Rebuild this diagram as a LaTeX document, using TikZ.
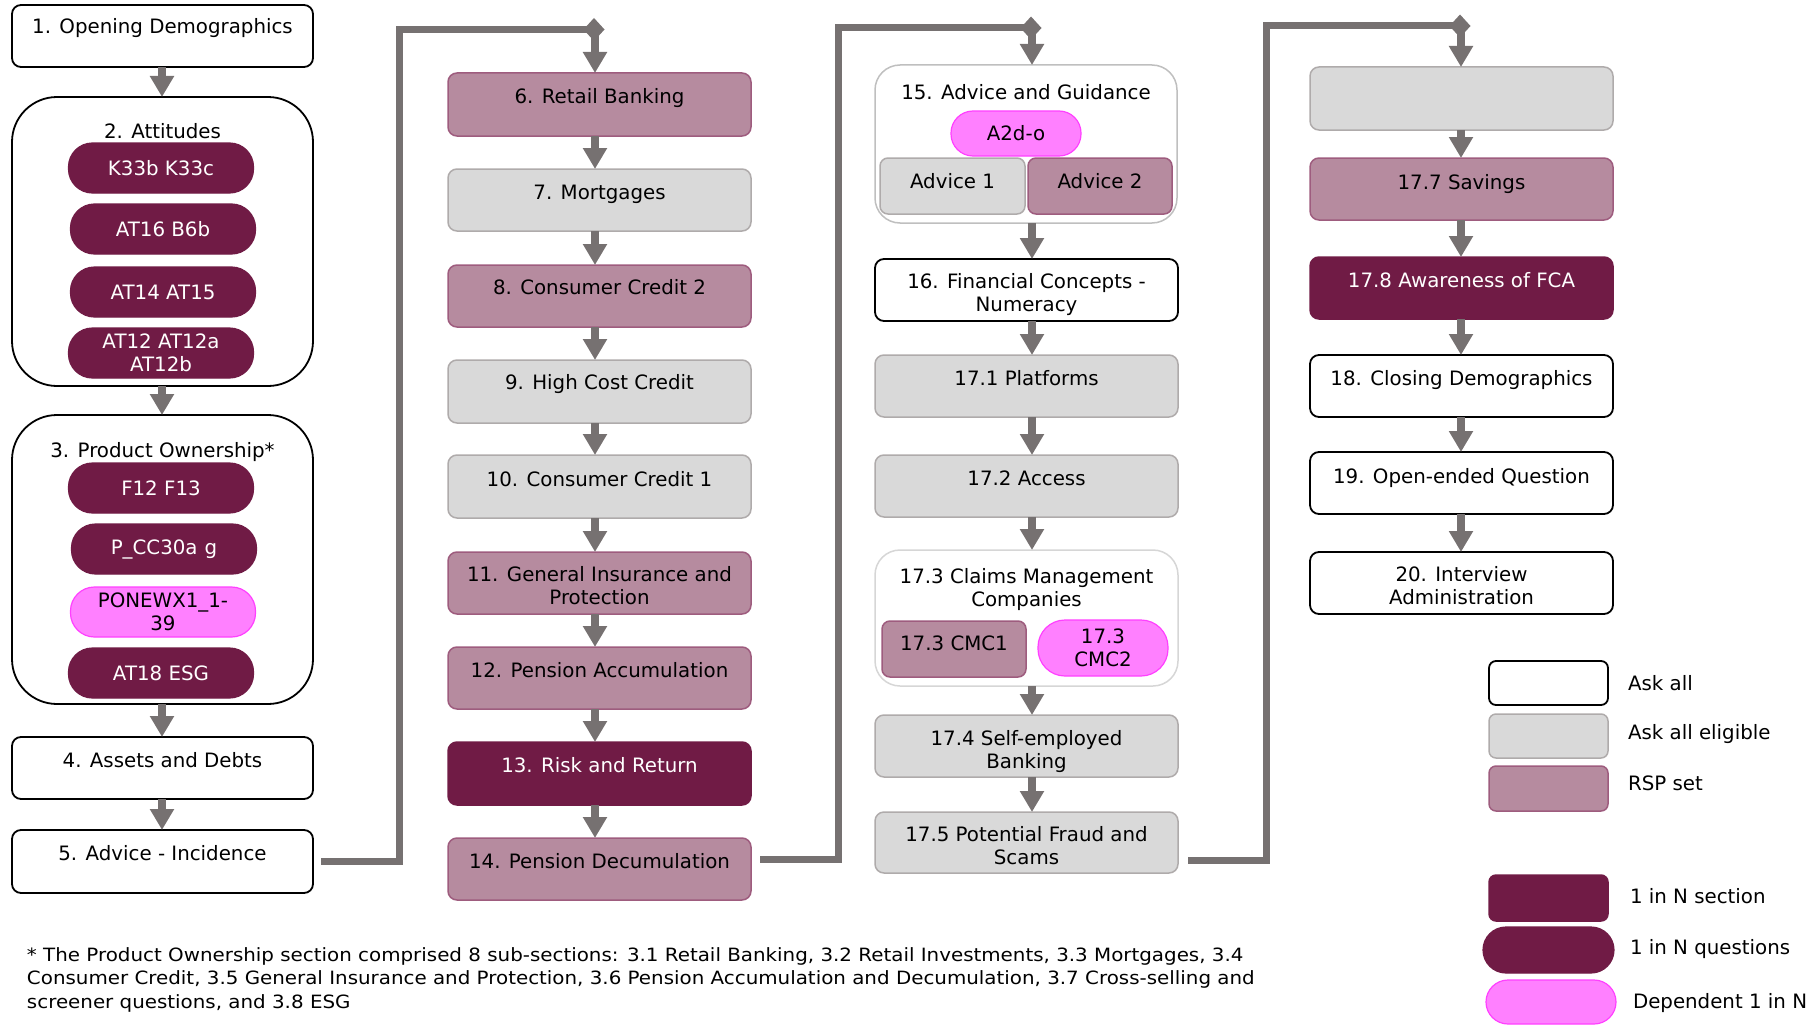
\documentclass[tikz,border=0pt]{standalone}
\usepackage{fontspec}
\setmainfont{DejaVu Sans}
\newfontfamily\footfont[FakeStretch=1.085]{DejaVu Sans}
\usetikzlibrary{arrows.meta,shapes.geometric,calc}

\definecolor{arrowgray}{HTML}{767171}
\definecolor{darkm}{HTML}{701B45}
\definecolor{mauve}{HTML}{B68B9F}
\definecolor{mauveb}{HTML}{9E5C7E}
\definecolor{lgray}{HTML}{D9D9D9}
\definecolor{lgrayb}{HTML}{AFABAB}
\definecolor{pinkf}{HTML}{FF80FF}
\definecolor{pinkb}{HTML}{FF40FF}
\definecolor{contb}{HTML}{BFBFBF}
\definecolor{contc}{HTML}{D6D6D6}

% box text: width, height, first-baseline offset, text
\newcommand{\bt}[4]{\parbox[c][#2pt][t]{#1pt}{\centering\rule{0pt}{#3pt}#4\par}}

\tikzset{
  base/.style={inner sep=0pt, outer sep=0pt, anchor=north west,
    font=\fontsize{19.8}{23.5}\selectfont, line width=1.5pt, rounded corners=9pt},
  askall/.style={base, draw=black, fill=white, line width=1.8pt},
  elig/.style={base, draw=lgrayb, fill=lgray},
  rsp/.style={base, draw=mauveb, fill=mauve},
  onen/.style={base, draw=darkm, fill=darkm, text=white},
  cont/.style={base, draw=black, fill=white, line width=1.8pt, rounded corners=45pt},
  contl/.style={base, draw=contb, fill=white, rounded corners=25pt},
  pill/.style={inner sep=0pt, outer sep=0pt, anchor=center, align=center,
    font=\fontsize{19.8}{23.5}\selectfont, rounded corners=24pt,
    fill=darkm, draw=darkm, text=white, line width=1.2pt,
    minimum width=185pt, minimum height=50pt},
  dpill/.style={pill, fill=pinkf, draw=pinkb, text=black},
  flow/.style={draw=arrowgray, line width=8.5pt, -{Triangle[width=23pt,length=21pt]}},
  conn/.style={draw=arrowgray, line width=7pt, line join=miter},
  junct/.style={diamond, fill=arrowgray, inner sep=0pt, outer sep=0pt,
    minimum width=21pt, minimum height=23pt},
  lab/.style={anchor=base west, inner sep=0pt, outer sep=0pt,
    font=\fontsize{19.8}{23.5}\selectfont},
  foot/.style={anchor=base west, inner sep=0pt, outer sep=0pt,
    font=\footfont\fontsize{18.3}{22}\selectfont},
}

\begin{document}
\begin{tikzpicture}[x=1pt, y=-1pt]
\useasboundingbox (0,0) rectangle (1818,1025);

% column arrow x positions
\coordinate (x1) at (162,0);
\coordinate (x2) at (595,0);
\coordinate (x3) at (1032,0);
\coordinate (x4) at (1461,0);

% ---------- Column 1 ----------
\node[askall] (b1) at (12,5) {\bt{301}{62}{29}{1. Opening Demographics}};
\node[cont] (b2) at (12,97) {\bt{301}{289}{41}{2. Attitudes}};
\node[pill] (p21) at (161,168) {K33b K33c};
\node[pill] (p22) at (163,229) {AT16 B6b};
\node[pill] (p23) at (163,292) {AT14 AT15};
\node[pill] (p24) at (161,353) {AT12 AT12a\\AT12b};
\node[cont] (b3) at (12,415) {\bt{301}{289}{42}{3. Product Ownership*}};
\node[pill] (p31) at (161,488) {F12 F13};
\node[pill] (p32) at (164,549) {P\_CC30a\kern7pt g};
\node[dpill] (p33) at (163,612) {PONEWX1\_1-\\39};
\node[pill] (p34) at (161,673) {AT18 ESG};
\node[askall] (b4) at (12,737) {\bt{301}{62}{30}{4. Assets and Debts}};
\node[askall] (b5) at (12,830) {\bt{301}{63}{30}{5. Advice - Incidence}};

% ---------- Column 2 ----------
\node[rsp]  (b6)  at (448,73)  {\bt{303}{63}{30}{6. Retail Banking}};
\node[elig] (b7)  at (448,169) {\bt{303}{62}{30}{7. Mortgages}};
\node[rsp]  (b8)  at (448,265) {\bt{303}{62}{29}{8. Consumer Credit 2}};
\node[elig] (b9)  at (448,360) {\bt{303}{63}{29}{9. High Cost Credit}};
\node[elig] (b10) at (448,455) {\bt{303}{63}{31}{10. Consumer Credit 1}};
\node[rsp]  (b11) at (448,552) {\bt{303}{62}{29}{11. General Insurance and\\Protection}};
\node[rsp]  (b12) at (448,647) {\bt{303}{62}{30}{12. Pension Accumulation}};
\node[onen] (b13) at (448,742) {\bt{303}{63}{30}{13. Risk and Return}};
\node[rsp]  (b14) at (448,838) {\bt{303}{62}{30}{14. Pension Decumulation}};

% ---------- Column 3 ----------
\node[contl] (b15) at (875,65) {\bt{302}{158}{34}{15. Advice and Guidance}};
\node[dpill, minimum width=130pt, minimum height=45pt, rounded corners=22pt] (a2d) at (1016,133.5) {A2d-o};
\node[elig, rounded corners=8pt] (adv1) at (880,158) {\bt{145}{56}{30}{Advice 1}};
\node[rsp, rounded corners=8pt] (adv2) at (1028,158) {\bt{144}{56}{30}{Advice 2}};
\node[askall] (b16) at (875,259) {\bt{303}{62}{29}{16. Financial Concepts -\\Numeracy}};
\node[elig] (b171) at (875,355) {\bt{303}{62}{30}{17.1 Platforms}};
\node[elig] (b172) at (875,455) {\bt{303}{62}{30}{17.2 Access}};
\node[contl, draw=contc] (b173) at (875,550) {\bt{303}{136}{33}{17.3 Claims Management\\Companies}};
\node[rsp, rounded corners=8pt] (cmc1) at (882,621) {\bt{144}{56}{29}{17.3 CMC1}};
\node[dpill, minimum width=130pt, minimum height=56pt, rounded corners=27pt] (cmc2) at (1103,648) {17.3\\CMC2};
\node[elig] (b174) at (875,715) {\bt{303}{62}{30}{17.4 Self-employed\\Banking}};
\node[elig] (b175) at (875,812) {\bt{303}{61}{29}{17.5 Potential Fraud and\\Scams}};

% ---------- Column 4 ----------
\node[elig] (b176) at (1310,67)  {\bt{303}{63}{0}{}};
\node[rsp]  (b177) at (1310,158) {\bt{303}{62}{31}{17.7 Savings}};
\node[onen] (b178) at (1310,257) {\bt{303}{62}{30}{17.8 Awareness of FCA}};
\node[askall] (b18) at (1310,355) {\bt{303}{62}{30}{18. Closing Demographics}};
\node[askall] (b19) at (1310,452) {\bt{303}{62}{31}{19. Open-ended Question}};
\node[askall] (b20) at (1310,552) {\bt{303}{62}{29}{20. Interview\\Administration}};

% ---------- Column arrows ----------
\foreach \a/\b in {b1/b2, b2/b3, b3/b4, b4/b5}
  \draw[flow] (\a.south -| x1) -- (\b.north -| x1);
\foreach \a/\b in {b6/b7, b7/b8, b8/b9, b9/b10, b10/b11, b11/b12, b12/b13, b13/b14}
  \draw[flow] (\a.south -| x2) -- (\b.north -| x2);
\foreach \a/\b in {b15/b16, b16/b171, b171/b172, b172/b173, b173/b174, b174/b175}
  \draw[flow] (\a.south -| x3) -- (\b.north -| x3);
\foreach \a/\b in {b176/b177, b177/b178, b178/b18, b18/b19, b19/b20}
  \draw[flow] (\a.south -| x4) -- (\b.north -| x4);

% ---------- Column-to-column connectors ----------
\coordinate (c1s) at (321,861);
\coordinate (c2s) at (760,859.5);
\coordinate (c3s) at (1188,860);
\node[junct] (j1) at (594,29.5) {};
\node[junct] (j2) at (1031,28) {};
\node[junct] (j3) at (1460,26) {};
\draw[conn] (c1s) -- (399,861) -- (399,29.5) -- (j1.center);
\draw[conn] (c2s) -- (838,859.5) -- (838,28) -- (j2.center);
\draw[conn] (c3s) -- (1266,860) -- (1266,26) -- (j3.center);
\draw[flow] (j1.center -| x2) -- (b6.north -| x2);
\draw[flow] (j2.center -| x3) -- (b15.north -| x3);
\draw[flow] (j3.center -| x4) -- (b176.north -| x4);

% ---------- Legend ----------
\node[askall, rounded corners=7pt, minimum width=119pt, minimum height=44pt] (la) at (1489,661) {};
\node[elig, rounded corners=7pt, minimum width=119pt, minimum height=44pt] (le) at (1489,714) {};
\node[rsp, rounded corners=7pt, minimum width=119pt, minimum height=45pt] (lr) at (1489,766) {};
\node[onen, rounded corners=7pt, minimum width=119pt, minimum height=46pt] (ls) at (1489,875) {};
\node[pill, minimum width=131pt, minimum height=46pt, rounded corners=23pt] (lq) at (1548.5,950) {};
\node[dpill, minimum width=130pt, minimum height=44pt, rounded corners=22pt] (ld) at (1551,1002) {};
\node[lab] (tla) at (1628,690) {Ask all};
\node[lab] (tle) at (1628,739) {Ask all eligible};
\node[lab] (tlr) at (1628,790) {RSP set};
\node[lab] (tls) at (1630,903) {1 in N section};
\node[lab] (tlq) at (1630,954) {1 in N questions};
\node[lab] (tld) at (1633,1008) {Dependent 1 in N};

% ---------- Footnote ----------
\node[foot] (f1) at (27,961) {* The Product Ownership section comprised 8 sub-sections: 3.1 Retail Banking, 3.2 Retail Investments, 3.3 Mortgages, 3.4};
\node[foot] (f2) at (27,984) {Consumer Credit, 3.5 General Insurance and Protection, 3.6 Pension Accumulation and Decumulation, 3.7 Cross-selling and};
\node[foot] (f3) at (27,1008) {screener questions, and 3.8 ESG};
\end{tikzpicture}
\end{document}
